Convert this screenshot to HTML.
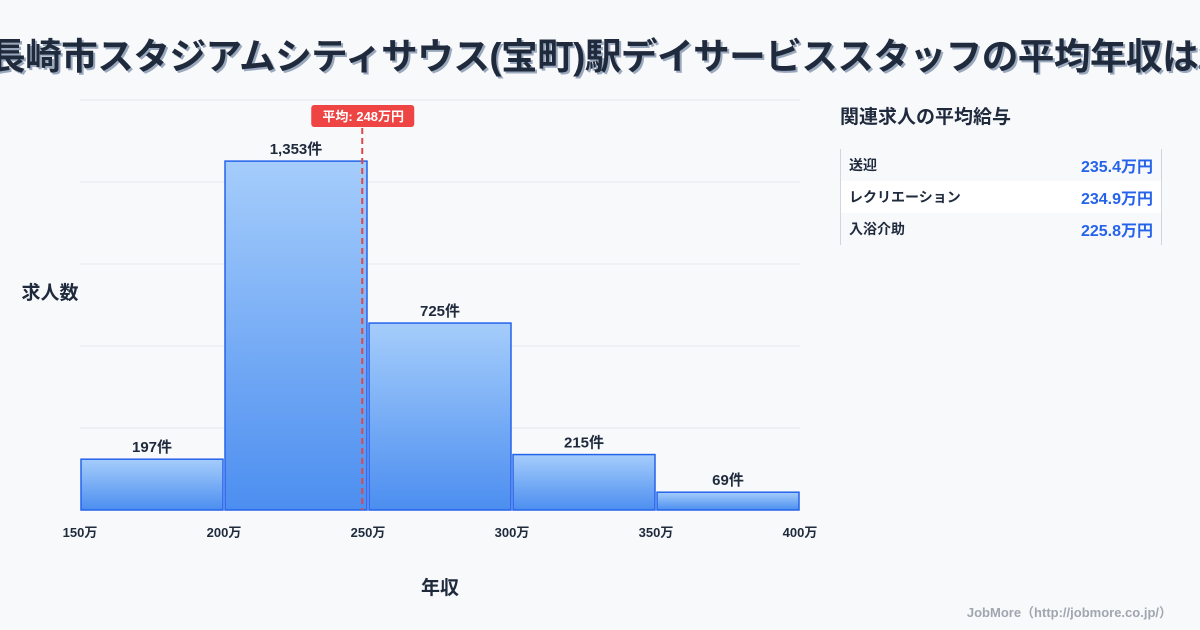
<!DOCTYPE html>
<html><head><meta charset="utf-8"><style>
body{margin:0;width:1200px;height:630px;background:#f8f9fb;overflow:hidden;font-family:"Liberation Sans","Noto Sans CJK JP",sans-serif;position:relative}
#tbox{position:absolute;left:0;top:0;width:1200px;height:90px;overflow:hidden}
#title{position:absolute;left:-11px;top:27px;white-space:nowrap;font-size:36.6px;font-weight:bold;color:#1f2a3c;text-shadow:2px 2px 0 #9aa8bd;letter-spacing:-0.5px}
#panel{position:absolute;left:840px;top:102px;width:322px}
#panel h3{margin:0 0 20px;font-size:19px;color:#1f2a3c}
.tbl{border-left:1px solid #cfd6e0;border-right:1px solid #cfd6e0}
.row{display:flex;justify-content:space-between;align-items:center;height:32px;padding:0 8px 0 8px;font-size:14px;font-weight:bold;color:#1f2a3c}
.row:nth-child(2){background:#fff}
.row span:last-child{color:#2563eb;font-size:16px}
#credit{position:absolute;right:28px;top:602px;font-size:13px;font-weight:bold;color:#a0a6b0}
</style></head><body>
<div id="tbox"><div id="title">長崎市スタジアムシティサウス(宝町)駅デイサービススタッフの平均年収は248万円</div></div>
<svg id="chart" width="830" height="630" style="position:absolute;left:0;top:0"></svg>
<div id="panel">
<h3>関連求人の平均給与</h3>
<div class="tbl">
<div class="row"><span>送迎</span><span>235.4万円</span></div>
<div class="row"><span>レクリエーション</span><span>234.9万円</span></div>
<div class="row"><span>入浴介助</span><span>225.8万円</span></div>
</div></div>
<div id="credit">JobMore（http://jobmore.co.jp/）</div>
<script>
const binStarts=[150,200,250,300,350];
const counts=[197,1353,725,215,69];
const xTicks=[150,200,250,300,350,400];
const meanValue=248;
const yMax=1590;
const NS="http://www.w3.org/2000/svg";
const svg=document.getElementById('chart');
const X=v=>80+(v-150)*(720/250);
const Y=v=>510-v*(410/yMax);
function mk(t,a,p){const e=document.createElementNS(NS,t);for(const k in a)e.setAttribute(k,a[k]);(p||svg).appendChild(e);return e;}
const defs=mk('defs',{});
const g=mk('linearGradient',{id:'bg',x1:0,y1:0,x2:0,y2:1},defs);
mk('stop',{offset:0,'stop-color':'#a5cdfb'},g);mk('stop',{offset:1,'stop-color':'#4c8ef0'},g);
for(let i=0;i<6;i++){const l=mk('line',{x1:80,x2:800,y1:510-i*82,y2:510-i*82,stroke:'#e3e6eb','stroke-width':1});

}
binStarts.forEach((b,i)=>{
const x0=X(b)+1,x1=X(b+50)-1,y=Y(counts[i]);
const r=mk('rect',{x:x0,y:y,width:x1-x0,height:510-y,fill:'url(#bg)',stroke:'#2563eb','stroke-width':1.5});


const t=mk('text',{x:(x0+x1)/2,y:y-7,'text-anchor':'middle','font-size':15,'font-weight':'bold',fill:'#1f2a3c'});
t.textContent=counts[i].toLocaleString('en-US')+'件';


});
xTicks.forEach(v=>{const t=mk('text',{x:X(v),y:537,'text-anchor':'middle','font-size':13,'font-weight':'bold',fill:'#1f2a3c'});t.textContent=v+'万';

});
const mx=X(meanValue);
const ml=mk('line',{x1:mx,x2:mx,y1:128,y2:510,stroke:'#e04848','stroke-width':2,'stroke-dasharray':'6,4'});


const mb=mk('rect',{x:mx-51,y:105,width:103,height:22,rx:3,fill:'#ef4444'});


const mt=mk('text',{x:mx+1,y:121,'text-anchor':'middle','font-size':13,'font-weight':'bold',fill:'#fff'});mt.textContent='平均: '+meanValue+'万円';


const yt=mk('text',{x:50,y:299,'text-anchor':'middle','font-size':19,'font-weight':'bold',fill:'#1f2a3c'});yt.textContent='求人数';


const xt=mk('text',{x:440,y:594,'text-anchor':'middle','font-size':19,'font-weight':'bold',fill:'#1f2a3c'});xt.textContent='年収';


</script>
</body></html>
